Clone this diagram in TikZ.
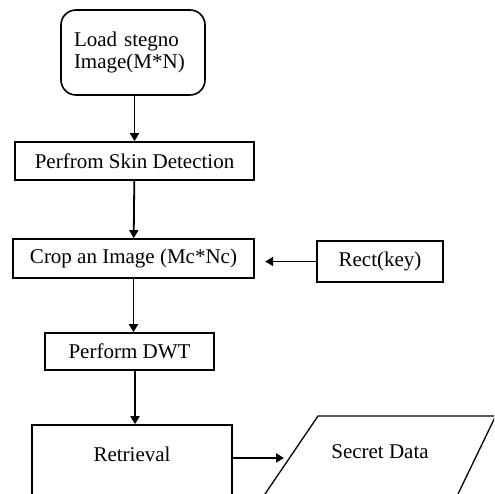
\documentclass[tikz,border=0pt]{standalone}
\usepackage{fontspec}
\setmainfont{Liberation Serif}
\usetikzlibrary{arrows.meta,positioning}

\begin{document}
\begin{tikzpicture}[x=1pt,y=-1pt,
  font=\fontsize{21}{22}\selectfont,
  box/.style={draw,line width=1.6pt,inner sep=0pt},
  startbox/.style={box,rounded corners=15pt,align=left,text width=118pt},
  flow/.style={-{Triangle[length=8pt,width=9pt]},line width=1.8pt}]
\clip (0,0) rectangle (494,494);

%Boxes
\node[startbox,minimum width=144pt,minimum height=85pt](load) at (133,52.5) {Load stegno\\Image(M*N)\\[-10pt]};
\node[box,minimum width=239pt,minimum height=38pt](skin) at (134.5,161) {Perfrom Skin Detection};
\node[box,minimum width=241pt,minimum height=39pt](crop) at (133.5,258.5) {Crop an Image (Mc*Nc)};
\node[box,minimum width=126pt,minimum height=41pt](key) at (380,261.5) {Rect(key)};
\node[box,minimum width=169pt,minimum height=37pt](dwt) at (129.5,351.5) {Perform DWT};
\node[box,minimum width=200pt,minimum height=70pt,text depth=12pt](retr) at (132,460) {Retrieval};

%Secret data
\coordinate(secA) at (318,416);
\coordinate(secB) at (530,416);
\coordinate(secC) at (458,494);
\coordinate(secD) at (265,494);
\coordinate(secE) at (513,380);
\draw[line width=1.3pt] (secD) -- (secA) -- (secB);
\draw[line width=1.3pt] (secC) -- (secE);
\node(secret) at (380,452) {Secret Data};
\coordinate(secin) at (284,458);

%Arrows
\draw[flow] (load.south -| skin.north) -- (skin.north);
\draw[flow] (skin) -- (crop);
\draw[flow] (key.west) -- ++(-51pt,0) coordinate(keyend);
\draw[flow] (crop.south) -- (crop.south |- dwt.north);
\draw[flow] (dwt.south -| 135,0) -- (retr.north -| 135,0);
\draw[flow] (retr.east |- secin) -- (secin);

\end{tikzpicture}
\end{document}
